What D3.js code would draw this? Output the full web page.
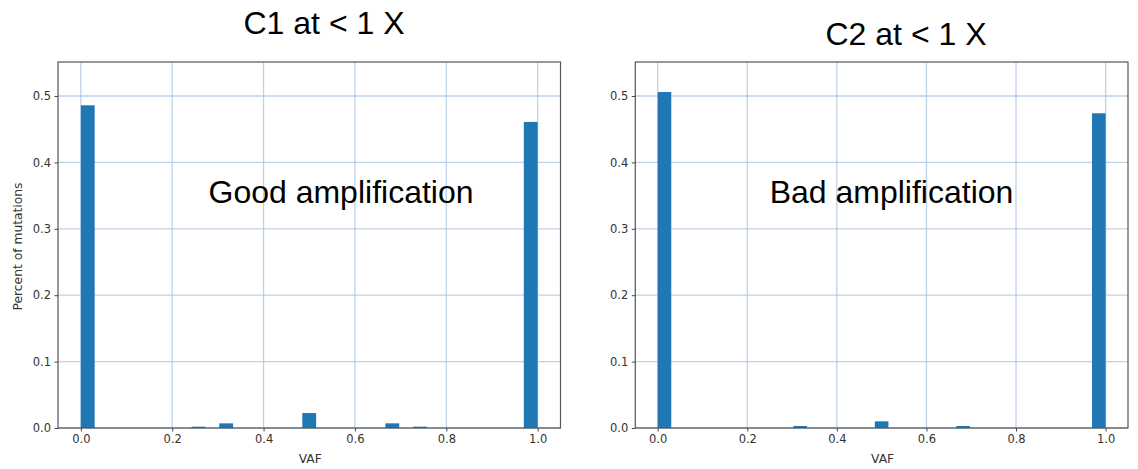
<!DOCTYPE html>
<html><head><meta charset="utf-8">
<script src="https://cdn.jsdelivr.net/npm/d3@7"></script>
<style>body{margin:0;background:#fff}svg{display:block}</style>
</head><body>
<script>
// ---- data ----
const binWidth = 1 / 33;
const c1BinStarts = [0.0, 0.2424, 0.3030, 0.4848, 0.6667, 0.7273, 0.9697];
const c1Values    = [0.486, 0.002, 0.007, 0.0225, 0.007, 0.002, 0.461];
const c2BinStarts = [0.0, 0.3030, 0.4848, 0.6667, 0.9697];
const c2Values    = [0.506, 0.003, 0.010, 0.003, 0.474];
const xTicks = [0.0, 0.2, 0.4, 0.6, 0.8, 1.0];
const yTicks = [0.0, 0.1, 0.2, 0.3, 0.4, 0.5];
const titles = ["C1 at < 1 X", "C2 at < 1 X"];
const notes = ["Good amplification", "Bad amplification"];

const W = 1138, H = 469;
const svg = d3.select("body").append("svg").attr("width", W).attr("height", H);

const panels = [
  {left: 58, right: 560.5, starts: c1BinStarts, vals: c1Values, title: titles[0], titleX: 324, titleY: 34, note: notes[0], noteX: 341, ylabel: true},
  {left: 635.3, right: 1128, starts: c2BinStarts, vals: c2Values, title: titles[1], titleX: 906, titleY: 45, note: notes[1], noteX: 891.5, ylabel: false}
];
const plotTop = 62, plotBottom = 428;

panels.forEach(p => {
  const x = d3.scaleLinear().domain([-0.05, 1.05]).range([p.left, p.right]);
  const y = d3.scaleLinear().domain([0, 0.5512]).range([plotBottom, plotTop]);
  const g = svg.append("g");

  // grid
  g.append("g").selectAll("line").data(xTicks).join("line")
    .attr("x1", d => x(d)).attr("x2", d => x(d)).attr("y1", plotTop).attr("y2", plotBottom)
    .attr("stroke", "#a9c1e0").attr("stroke-opacity", 0.75).attr("stroke-width", 1.3);
  g.append("g").selectAll("line").data(yTicks).join("line")
    .attr("x1", p.left).attr("x2", p.right).attr("y1", d => y(d)).attr("y2", d => y(d))
    .attr("stroke", "#a9c1e0").attr("stroke-opacity", 0.75).attr("stroke-width", 1.3);

  // bars
  g.append("g").selectAll("rect").data(p.starts.map((s, i) => ({s, v: p.vals[i]}))).join("rect")
    .attr("x", d => x(d.s)).attr("width", d => x(d.s + binWidth) - x(d.s))
    .attr("y", d => y(d.v)).attr("height", d => y(0) - y(d.v))
    .attr("fill", "#1f77b4");

  // axes
  const xAxis = d3.axisBottom(x).tickValues(xTicks).tickFormat(d3.format(".1f")).tickSize(3.5).tickPadding(3.5);
  const yAxis = d3.axisLeft(y).tickValues(yTicks).tickFormat(d3.format(".1f")).tickSize(3.5).tickPadding(3.5);
  const gx = g.append("g").attr("transform", `translate(0,${plotBottom})`).call(xAxis);
  const gy = g.append("g").attr("transform", `translate(${p.left},0)`).call(yAxis);
  [gx, gy].forEach(a => {
    a.select(".domain").remove();
    a.selectAll(".tick line").attr("stroke", "#444").attr("stroke-width", 1);
    a.selectAll(".tick text").attr("fill", "#333").style("font-family", "DejaVu Sans").style("font-size", "11.5px");
  });

  // frame
  g.append("rect").attr("x", p.left).attr("y", plotTop).attr("width", p.right - p.left).attr("height", plotBottom - plotTop)
    .attr("fill", "none").attr("stroke", "#555").attr("stroke-width", 1.2);

  // labels
  g.append("text").attr("x", (p.left + p.right) / 2 + 1).attr("y", 463).attr("text-anchor", "middle")
    .style("font-family", "DejaVu Sans").style("font-size", "12.3px").attr("fill", "#333").text("VAF");
  if (p.ylabel) {
    g.append("text").attr("transform", "translate(22,246.5) rotate(-90)").attr("text-anchor", "middle")
      .style("font-family", "DejaVu Sans").style("font-size", "12.3px").attr("fill", "#333").text("Percent of mutations");
  }
  svg.append("text").attr("x", p.titleX).attr("y", p.titleY).attr("text-anchor", "middle")
    .style("font-family", "Liberation Sans").style("font-size", "32px").attr("fill", "#000").text(p.title);
  svg.append("text").attr("x", p.noteX).attr("y", 202.5).attr("text-anchor", "middle")
    .style("font-family", "Liberation Sans").style("font-size", "32px").attr("fill", "#000").text(p.note);
});
</script>
</body></html>
